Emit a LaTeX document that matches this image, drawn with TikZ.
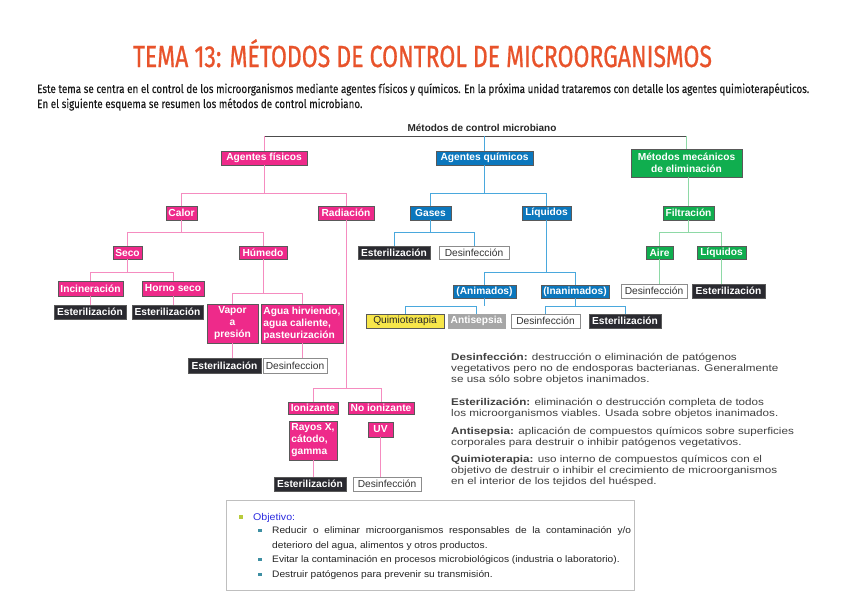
\documentclass[tikz,border=0pt]{standalone}
\usepackage{fontspec}
\setmainfont{Liberation Sans}
\newfontfamily\bxf{Liberation Sans}
\newfontfamily\dff{Liberation Sans}[FakeStretch=1.19]
\newfontfamily\obf{Liberation Sans}[FakeStretch=1.085]
\newfontfamily\fira{Fira Sans}[FakeBold=0.15]
\newfontfamily\firat{Fira Sans}[FakeBold=0.8]
\definecolor{cPink}{HTML}{EE2A8A}
\definecolor{cPinkL}{HTML}{F58CC0}
\definecolor{cBlue}{HTML}{0B77BD}
\definecolor{cBlueL}{HTML}{4AA8DD}
\definecolor{cGreen}{HTML}{10AE4F}
\definecolor{cGreenL}{HTML}{8ED9A6}
\definecolor{cDark}{HTML}{2A2A30}
\definecolor{cYellow}{HTML}{F7E64A}
\definecolor{cGrey}{HTML}{A6A6A6}
\definecolor{cTitle}{HTML}{E8532B}
\definecolor{cObj}{HTML}{2B2BE0}
\definecolor{cBulA}{HTML}{B8CB3C}
\definecolor{cBulB}{HTML}{3E8FA3}
\newsavebox\ttlbox
\newsavebox\intbox
\newlength\ttlw
\newlength\intw
\tikzset{
  nb/.style={draw=black!65, line width=0.6pt, inner sep=1pt, align=center,
    font=\bxf\bfseries\fontsize{10.2}{12}\selectfont, text=white},
  pkbox/.style={nb, fill=cPink},
  blbox/.style={nb, fill=cBlue},
  gnbox/.style={nb, fill=cGreen},
  dkbox/.style={nb, fill=cDark},
  wtbox/.style={nb, fill=white, draw=black!45, text=black!80, font=\bxf\fontsize{10.2}{12}\selectfont},
  ylbox/.style={nb, fill=cYellow, text=black!85, font=\bxf\fontsize{10.2}{12}\selectfont},
  gybox/.style={nb, fill=cGrey, draw=black!35},
  pline/.style={draw=cPinkL, line width=1pt},
  bline/.style={draw=cBlueL, line width=1pt},
  gline/.style={draw=cGreenL, line width=1pt},
  rline/.style={draw=black!70, line width=0.8pt},
  defl/.style={anchor=base west, inner sep=0, font=\dff\fontsize{9.8}{11}\selectfont, text=black!75},
  objl/.style={anchor=base west, inner sep=0, font=\obf\fontsize{9.4}{11}\selectfont, text=black!85},
  intl/.style={anchor=base west, inner sep=0, text=black!88},
}
\begin{document}
\sbox\ttlbox{\color{cTitle}\firat\fontsize{30.5}{32}\selectfont TEMA 13: MÉTODOS DE CONTROL DE MICROORGANISMOS}%
\setlength\ttlw{\wd\ttlbox}%
\sbox\intbox{\color{black!90}\fira\fontsize{12}{14}\selectfont Este tema se centra en el control de los microorganismos mediante agentes físicos y químicos. En la próxima unidad trataremos con detalle los agentes quimioterapéuticos.}%
\setlength\intw{\wd\intbox}%
\begin{tikzpicture}[x=1pt,y=-1pt]
\useasboundingbox[fill=white] (0,0) rectangle (848,600);
% title and intro
\pgfmathsetmacro\ttlsx{579/\ttlw}
\node[anchor=base, inner sep=0, text=cTitle] (title) at (422.5,67) {\scalebox{\ttlsx}[1]{\usebox\ttlbox}};
\pgfmathsetmacro\intsx{772/\intw}
\node[intl] (intro1) at (37,93) {\scalebox{\intsx}[1]{\usebox\intbox}};
\node[intl] (intro2) at (37,108) {\scalebox{\intsx}[1]{\color{black!90}\fira\fontsize{12}{14}\selectfont En el siguiente esquema se resumen los métodos de control microbiano.}};

% root
\node[inner sep=0, font=\bxf\bfseries\fontsize{10}{11}\selectfont, text=black!85] (root) at (482,128) {Métodos de control microbiano};

% level 1
\node[pkbox, minimum width=86pt, minimum height=14pt] (agf) at (264,158) {Agentes físicos};
\node[blbox, minimum width=97pt, minimum height=14pt] (agq) at (484.5,158) {Agentes químicos};
\node[gnbox, minimum width=111pt, minimum height=28pt] (mm) at (686.5,163) {Métodos mecánicos\\de eliminación};

% level 2
\node[pkbox, minimum width=31pt, minimum height=14pt] (calor) at (181.5,213) {Calor};
\node[pkbox, minimum width=56pt, minimum height=14pt] (rad) at (346,213) {Radiación};
\node[blbox, minimum width=41pt, minimum height=14pt] (gases) at (430.5,213) {Gases};
\node[blbox, minimum width=49pt, minimum height=14pt] (liq) at (546.5,213) {Líquidos};
\node[gnbox, minimum width=51pt, minimum height=14pt] (filt) at (688.5,213) {Filtración};

% level 3
\node[pkbox, minimum width=29pt, minimum height=13pt] (seco) at (127.5,252.5) {Seco};
\node[pkbox, minimum width=48pt, minimum height=13pt] (hum) at (263,252.5) {Húmedo};
\node[dkbox, minimum width=72pt, minimum height=13pt] (gE) at (394,252.5) {Esterilización};
\node[wtbox, minimum width=70pt, minimum height=13pt] (gD) at (474,252.5) {Desinfección};
\node[gnbox, minimum width=27pt, minimum height=13pt] (aire) at (659.5,252.5) {Aire};
\node[gnbox, minimum width=49pt, minimum height=13pt] (fliq) at (721.5,252.5) {Líquidos};

% level 4
\node[pkbox, minimum width=65pt, minimum height=15pt] (inc) at (90.5,288.5) {Incineración};
\node[pkbox, minimum width=62pt, minimum height=15pt] (horno) at (173,288.5) {Horno seco};
\node[blbox, minimum width=63pt, minimum height=13pt] (anim) at (484.5,291.5) {(Animados)};
\node[blbox, minimum width=68pt, minimum height=13pt] (inan) at (575,291.5) {(Inanimados)};
\node[wtbox, minimum width=66pt, minimum height=14pt] (fD) at (654,291) {Desinfección};
\node[dkbox, minimum width=73pt, minimum height=14pt] (fE) at (728.5,291) {Esterilización};

% level 5
\node[dkbox, minimum width=72pt, minimum height=14pt] (incE) at (90,312) {Esterilización};
\node[dkbox, minimum width=71pt, minimum height=14pt] (hornoE) at (167.5,312) {Esterilización};
\node[ylbox, minimum width=78pt, minimum height=14pt] (quim) at (405,321) {Quimioterapia};
\node[gybox, minimum width=57pt, minimum height=14pt] (anti) at (476.5,321) {Antisepsia};
\node[wtbox, minimum width=69pt, minimum height=14pt] (inD) at (545.5,321) {Desinfección};
\node[dkbox, minimum width=72pt, minimum height=14pt] (inE) at (625,321) {Esterilización};
\node[pkbox, minimum width=51pt, minimum height=39pt] (vapor) at (232.5,323.5) {Vapor\\a\\presión};
\node[pkbox, minimum width=82pt, minimum height=39pt, align=left] (agua) at (302,323.5) {Agua hirviendo,\\agua caliente,\\pasteurización};
\node[dkbox, minimum width=73pt, minimum height=15pt] (vE) at (224.5,365.5) {Esterilización};
\node[wtbox, minimum width=64pt, minimum height=15pt] (vD) at (295,365.5) {Desinfeccion};

% radiation branch
\node[pkbox, minimum width=50pt, minimum height=12pt] (ion) at (313,408) {Ionizante};
\node[pkbox, minimum width=66pt, minimum height=12pt] (noion) at (381,408) {No ionizante};
\node[pkbox, minimum width=48pt, minimum height=39pt, align=left] (rayos) at (313,440.5) {Rayos X,\\cátodo,\\gamma};
\node[pkbox, minimum width=25pt, minimum height=15pt] (uv) at (380.5,429.5) {UV};
\node[dkbox, minimum width=72pt, minimum height=14pt] (rE) at (310,484) {Esterilización};
\node[wtbox, minimum width=68pt, minimum height=14pt] (rD) at (387,484) {Desinfección};

% connectors: root
\draw[rline] (agf.north |- 0,136) -- (mm.north |- 0,136);
\draw[pline] (agf.north |- 0,136) -- (agf.north);
\draw[bline] (agq.north |- 0,136) -- (agq.north);
\draw[gline] (mm.north |- 0,136) -- (mm.north);
% physical
\draw[pline] (agf.south) -- (agf.south |- 0,193);
\draw[pline] (calor.north) |- (rad.north |- 0,193) -- (rad.north);
\draw[pline] (calor.south) -- (calor.south |- 0,232);
\draw[pline] (seco.north) |- (hum.north |- 0,232) -- (hum.north);
\draw[pline] (seco.south) -- (seco.south |- 0,272);
\draw[pline] (inc.north) |- (horno.north |- 0,272) -- (horno.north);
\draw[pline] (inc.south) -- (inc.south |- incE.north);
\draw[pline] (horno.south) -- (horno.south |- hornoE.north);
\draw[pline] (hum.south) -- (hum.south |- 0,293);
\draw[pline] (vapor.north) |- (agua.north |- 0,293) -- (agua.north);
\draw[pline] (vapor.south) -- (vapor.south |- vE.north);
\draw[pline] (agua.south) -- (agua.south |- vD.north);
\draw[pline] (rad.south) -- (rad.south |- 0,388);
\draw[pline] (ion.north) |- (noion.north |- 0,388) -- (noion.north);
\draw[pline] (rayos.south) -- (rayos.south |- rE.north);
\draw[pline] (uv.south) -- (uv.south |- rD.north);
% chemical
\draw[bline] (agq.south) -- (agq.south |- 0,193);
\draw[bline] (gases.north) |- (liq.north |- 0,193) -- (liq.north);
\draw[bline] (gases.south) -- (gases.south |- 0,232);
\draw[bline] (gE.north) |- (gD.north |- 0,232) -- (gD.north);
\draw[bline] (liq.south) -- (liq.south |- 0,272);
\draw[bline] (anim.north) |- (inan.north |- 0,272) -- (inan.north);
\draw[bline] (anim.south) -- (anim.south |- 0,306);
\draw[bline] (quim.north) |- (anti.north |- 0,306) -- (anti.north);
\draw[bline] (inan.south) -- (inan.south |- 0,306);
\draw[bline] (inD.north) |- (inE.north |- 0,306) -- (inE.north);
% mechanical
\draw[gline] (filt.north) -- (filt.north |- mm.south);
\draw[gline] (filt.south) -- (filt.south |- 0,232);
\draw[gline] (aire.north) |- (fliq.north |- 0,232) -- (fliq.north);
\draw[gline] (aire.south) -- (aire.south |- fD.north);
\draw[gline] (fliq.south) -- (fliq.south |- fE.north);

% definitions
\node[defl] (d1) at (451,360) {\textbf{Desinfección:} destrucción o eliminación de patógenos};
\node[defl] (d2) at (451,371) {vegetativos pero no de endosporas bacterianas. Generalmente};
\node[defl] (d3) at (451,382) {se usa sólo sobre objetos inanimados.};
\node[defl] (e1) at (451,405) {\textbf{Esterilización:} eliminación o destrucción completa de todos};
\node[defl] (e2) at (451,416) {los microorganismos viables. Usada sobre objetos inanimados.};
\node[defl] (a1) at (451,434) {\textbf{Antisepsia:} aplicación de compuestos químicos sobre superficies};
\node[defl] (a2) at (451,445) {corporales para destruir o inhibir patógenos vegetativos.};
\node[defl] (q1) at (451,462) {\textbf{Quimioterapia:} uso interno de compuestos químicos con el};
\node[defl] (q2) at (451,473) {objetivo de destruir o inhibir el crecimiento de microorganismos};
\node[defl] (q3) at (451,484) {en el interior de los tejidos del huésped.};

% objective box
\node[draw=black!25, line width=1pt, minimum width=408pt, minimum height=90pt, inner sep=0] (objbox) at (430,545) {};
\node[fill=cBulA, minimum size=3.5pt, inner sep=0] (bu0) at (241,517) {};
\node[objl, text=cObj, font=\obf\fontsize{9.8}{11}\selectfont] (obj) at (253,520.5) {Objetivo:};
\node[fill=cBulB, minimum size=3.2pt, inner sep=0] (bu1) at (260,530.5) {};
\node[fill=cBulB, minimum size=3.2pt, inner sep=0] (bu2) at (260,559.5) {};
\node[fill=cBulB, minimum size=3.2pt, inner sep=0] (bu3) at (260,574.5) {};
\node[objl] (o1) at (272,533.5) {\makebox[359pt][s]{Reducir o eliminar microorganismos responsables de la contaminación y/o}};
\node[objl] (o2) at (272,548) {deterioro del agua, alimentos y otros productos.};
\node[objl] (o3) at (272,562.5) {Evitar la contaminación en procesos microbiológicos (industria o laboratorio).};
\node[objl] (o4) at (272,577.5) {Destruir patógenos para prevenir su transmisión.};
\end{tikzpicture}
\end{document}
